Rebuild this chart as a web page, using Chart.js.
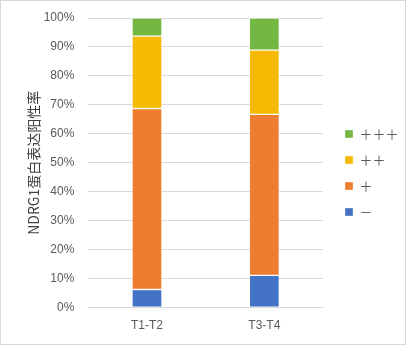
<!DOCTYPE html>
<html>
<head>
<meta charset="utf-8">
<script src="https://cdn.jsdelivr.net/npm/chart.js@4"></script>
<style>
  html, body { margin: 0; padding: 0; background: #fff; }
  #wrap { position: relative; width: 406px; height: 345px; box-sizing: border-box; border: 1px solid #d9d9d9; }
</style>
</head>
<body>
<div id="wrap"><canvas id="myBarChart"></canvas></div>
<script>
// categories and series (percent of cases per group)
var categories = ['T1-T2', 'T3-T4'];
var negValues = [6.25, 11.1];
var plusValues = [62.5, 55.6];
var plus2Values = [25.0, 22.2];
var plus3Values = [6.25, 11.1];
var seriesNames = ['－', '＋', '＋＋', '＋＋＋'];
var yTickLabels = ['0%', '10%', '20%', '30%', '40%', '50%', '60%', '70%', '80%', '90%', '100%'];
var yTitle = 'NDRG1蛋白表达阳性率';

var tickColor = '#595959';
var gridColor = '#d9d9d9';

function makeSet(name, values, color) {
     return {
          label: name,
          data: values,
          backgroundColor: color,
          borderColor: 'rgba(255,255,255,0.3)',
          borderWidth: 1,
          borderSkipped: false,
          barThickness: 30
     };
}

// Fixed legend width so the legend column sits where the original has it
var legendWidthPlugin = {
     id: 'legendWidth',
     beforeLayout: function (chart) {
          var legend = chart.legend;
          if (legend && !legend._fixedFit) {
               var fit = legend.fit;
               legend.fit = function () {
                    fit.call(this);
                    this.width = 73;
               };
               legend._fixedFit = true;
          }
     }
};

function createStackedBarChart() {
     var ctx = document.getElementById('myBarChart').getContext('2d');
     window.myBarChart = new Chart(ctx, {
          type: 'bar',
          data: {
               labels: categories,
               datasets: [
                    makeSet(seriesNames[0], negValues, '#4472C4'),
                    makeSet(seriesNames[1], plusValues, '#ED7D31'),
                    makeSet(seriesNames[2], plus2Values, '#F4B900'),
                    makeSet(seriesNames[3], plus3Values, '#74B843')
               ]
          },
          options: {
               responsive: true,
               maintainAspectRatio: false,
               animation: false,
               layout: {
                    padding: { left: 24, top: 1, right: 0, bottom: 0 }
               },
               scales: {
                    x: {
                         stacked: true,
                         grid: { display: false, drawTicks: false },
                         border: { display: true, color: gridColor, width: 1 },
                         ticks: {
                              color: tickColor,
                              padding: 11,
                              font: { family: 'Liberation Sans', size: 12 }
                         }
                    },
                    y: {
                         stacked: true,
                         min: 0,
                         max: 100,
                         grid: { color: gridColor, drawTicks: false },
                         border: { display: false },
                         // room above the 100% line
                         afterFit: function (scale) { scale.paddingTop = 17; },
                         ticks: {
                              stepSize: 10,
                              color: tickColor,
                              padding: 14,
                              font: { family: 'Liberation Sans', size: 12 },
                              callback: function (value, index) {
                                   return yTickLabels[index];
                              }
                         },
                         title: {
                              display: true,
                              text: yTitle,
                              color: '#404040',
                              padding: { top: 0, bottom: 12 },
                              font: { family: 'Noto Sans CJK SC', size: 14, weight: 'normal' }
                         }
                    },
                    // empty spacer between plot and legend
                    gap: {
                         position: 'right',
                         display: true,
                         grid: { display: false, drawTicks: false },
                         border: { display: false },
                         ticks: { display: false },
                         afterFit: function (scale) { scale.width = 9; }
                    }
               },
               plugins: {
                    legend: {
                         position: 'right',
                         reverse: true,
                         labels: {
                              color: tickColor,
                              boxWidth: 8,
                              boxHeight: 8,
                              padding: 13,
                              font: { family: 'Noto Sans CJK SC', size: 13 }
                         }
                    },
                    tooltip: { enabled: false }
               }
          },
          plugins: [legendWidthPlugin]
     });
}

createStackedBarChart();
</script>
</body>
</html>
